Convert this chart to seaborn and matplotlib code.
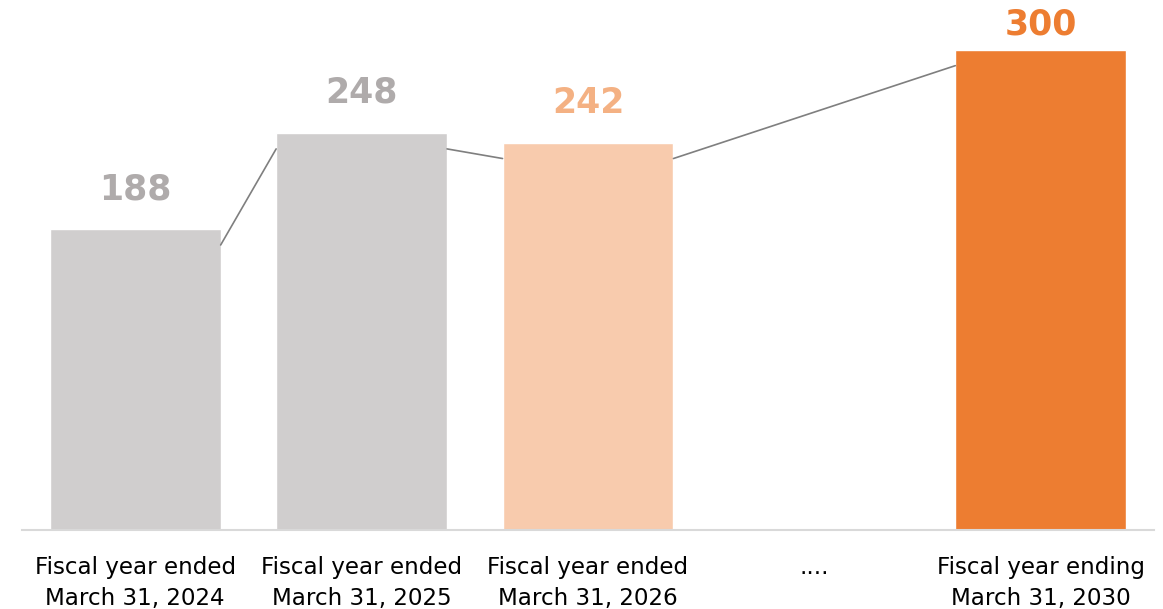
import numpy as np
import pandas as pd
import matplotlib
matplotlib.use("Agg")
import matplotlib.pyplot as plt
import seaborn as sns

categories = ["Fiscal year ended\nMarch 31, 2024", "Fiscal year ended\nMarch 31, 2025",
              "Fiscal year ended\nMarch 31, 2026", "....",
              "Fiscal year ending\nMarch 31, 2030"]
values = [188, 248, 242, np.nan, 300]
bar_colors = ["#D0CECE", "#D0CECE", "#F8CBAD", "#FFFFFF", "#ED7D31"]
label_colors = ["#AFABAB", "#AFABAB", "#F4B183", "#FFFFFF", "#ED7D31"]
label_offsets_pt = [16.5, 16.5, 16.5, 0, 5.5]

sns.set_theme(style="white")
plt.rcParams['font.family'] = ['DejaVu Sans']

df = pd.DataFrame({"cat": categories, "val": values})

fig = plt.figure(figsize=(11.63, 6.09), dpi=100)
ax = fig.add_axes([22/1163, 1 - 530/609, (1154-22)/1163, 530/609])

width = 0.755
sns.barplot(data=df, x="cat", y="val", hue="cat", palette=bar_colors, legend=False,
            width=width, ax=ax, saturation=1, order=categories, hue_order=categories)

# connector lines between bars (slightly below tops)
offset = 10
idx = [i for i, v in enumerate(values) if not np.isnan(v)]
for a, b in zip(idx[:-1], idx[1:]):
    ax.plot([a + width/2, b - width/2], [values[a] - offset, values[b] - offset],
            color="#7F7F7F", lw=1.2, zorder=1)

for i, v in enumerate(values):
    if not np.isnan(v):
        ax.annotate(f"{v:.0f}", (i, v), xytext=(0, label_offsets_pt[i]), textcoords="offset points",
                    ha="center", va="bottom", fontsize=25, fontweight="bold",
                    color=label_colors[i], annotation_clip=False)

ax.set_xlim(-0.5, len(categories) - 0.5)
ax.set_ylim(0, 331)
ax.set_xlabel("")
ax.set_ylabel("")
ax.set_yticks([])
ax.tick_params(axis="x", length=0, pad=19, labelsize=16.6, colors="#000000")
for lab in ax.get_xticklabels():
    lab.set_linespacing(1.4)
for s in ["top", "right", "left"]:
    ax.spines[s].set_visible(False)
ax.spines["bottom"].set_color("#D9D9D9")
ax.spines["bottom"].set_linewidth(1.5)

fig.savefig("out.png", dpi=100)
